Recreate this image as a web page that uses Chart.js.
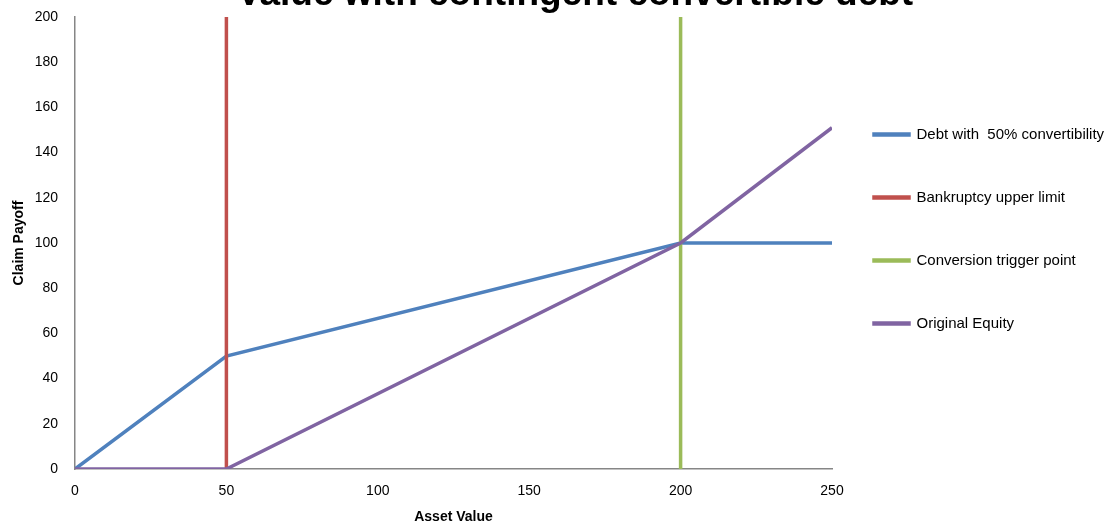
<!DOCTYPE html>
<html lang="en">
<head>
    <meta charset="UTF-8">
    <title>Value with contingent convertible debt</title>
    <script src="https://cdn.jsdelivr.net/npm/chart.js"></script>
    <style>
        body {
            margin: 0;
            padding: 0;
            background: #fff;
            overflow: hidden;
            width: 1114px;
            height: 526px;
            position: relative;
        }
        .chart-title {
            position: absolute;
            left: 0;
            top: -26px;
            width: 1150px;
            margin: 0;
            text-align: center;
            font-family: 'Liberation Sans', Arial, sans-serif;
            font-size: 37px;
            line-height: 37px;
            font-weight: bold;
            color: #000;
            z-index: 2;
        }
        .chart-wrap {
            position: absolute;
            left: 0;
            top: 0;
            width: 1114px;
            height: 526px;
        }
    </style>
</head>
<body>
    <h1 class="chart-title">Value with contingent convertible debt</h1>
    <div class="chart-wrap">
        <canvas id="payoffChart" width="1114" height="526"></canvas>
    </div>

    <script>
        // values
        const assetValues = [0, 50, 200, 250];
        const debtPayoff = [0, 50, 100, 100];
        const equityPayoff = [0, 0, 100, 151];
        const bankruptcyX = [50, 50];
        const triggerX = [200, 200];
        const verticalY = [0, 200];

        const seriesNames = [
            "Debt with  50% convertibility",
            "Bankruptcy upper limit",
            "Conversion trigger point",
            "Original Equity"
        ];

        const xTicks = [0, 50, 100, 150, 200, 250];
        const yTicks = [0, 20, 40, 60, 80, 100, 120, 140, 160, 180, 200];

        function toPoints(xs, ys) {
            return xs.map((x, i) => ({ x: x, y: ys[i] }));
        }

        function lineSet(label, data, color, order) {
            return {
                label: label,
                data: data,
                borderColor: color,
                backgroundColor: color,
                borderWidth: 3.5,
                pointRadius: 0,
                fill: false,
                tension: 0,
                order: order
            };
        }

        // nudge the legend block so it sits where the original one does
        const legendNudge = {
            id: "legendNudge",
            afterLayout(chart) {
                const lg = chart.legend;
                if (!lg) return;
                lg.left -= 6;
                lg.right -= 6;
                lg.top -= 14;
                lg.bottom -= 14;
            }
        };

        const ctx = document.getElementById("payoffChart").getContext("2d");
        const fontFamily = "'Liberation Sans', Arial, sans-serif";

        new Chart(ctx, {
            type: "line",
            data: {
                datasets: [
                    lineSet(seriesNames[0], toPoints(assetValues, debtPayoff), "#4F81BD", 4),
                    lineSet(seriesNames[1], toPoints(bankruptcyX, verticalY), "#C0504D", 3),
                    lineSet(seriesNames[2], toPoints(triggerX, verticalY), "#9BBB59", 2),
                    lineSet(seriesNames[3], toPoints(assetValues, equityPayoff), "#8064A2", 1)
                ]
            },
            plugins: [legendNudge],
            options: {
                responsive: false,
                animation: false,
                devicePixelRatio: 1,
                layout: { padding: { left: 11, right: 0, top: 17, bottom: 0 } },
                plugins: {
                    title: { display: false },
                    legend: {
                        position: "right",
                        fullSize: false,
                        maxWidth: 282,
                        labels: {
                            sort: (a, b) => a.datasetIndex - b.datasetIndex,
                            boxWidth: 35,
                            boxHeight: 1,
                            padding: 48,
                            color: "#000",
                            font: { family: fontFamily, size: 15 }
                        }
                    },
                    tooltip: { enabled: false }
                },
                scales: {
                    x: {
                        type: "linear",
                        min: 0,
                        max: 250,
                        afterBuildTicks: axis => { axis.ticks = xTicks.map(v => ({ value: v })); },
                        afterFit: axis => { axis.height = 57; },
                        grid: { display: false, drawTicks: false },
                        border: { color: "#868686", width: 1.5 },
                        ticks: {
                            color: "#000",
                            padding: 14,
                            font: { family: fontFamily, size: 14 }
                        },
                        title: {
                            display: true,
                            text: "Asset Value",
                            color: "#000",
                            font: { family: fontFamily, size: 14, weight: "bold" },
                            padding: { top: 10, bottom: 0 }
                        }
                    },
                    y: {
                        min: 0,
                        max: 200,
                        afterBuildTicks: axis => { axis.ticks = yTicks.map(v => ({ value: v })); },
                        afterFit: axis => {
                            axis.width = 64;
                            axis.paddingTop = 8;
                            axis.paddingBottom = 8;
                        },
                        grid: { display: false, drawTicks: false },
                        border: { color: "#868686", width: 1.5 },
                        ticks: {
                            color: "#000",
                            padding: 17,
                            font: { family: fontFamily, size: 14 }
                        },
                        title: {
                            display: true,
                            text: "Claim Payoff",
                            color: "#000",
                            font: { family: fontFamily, size: 14, weight: "bold" },
                            padding: { top: 0, bottom: 0 }
                        }
                    }
                }
            }
        });
    </script>
</body>
</html>
